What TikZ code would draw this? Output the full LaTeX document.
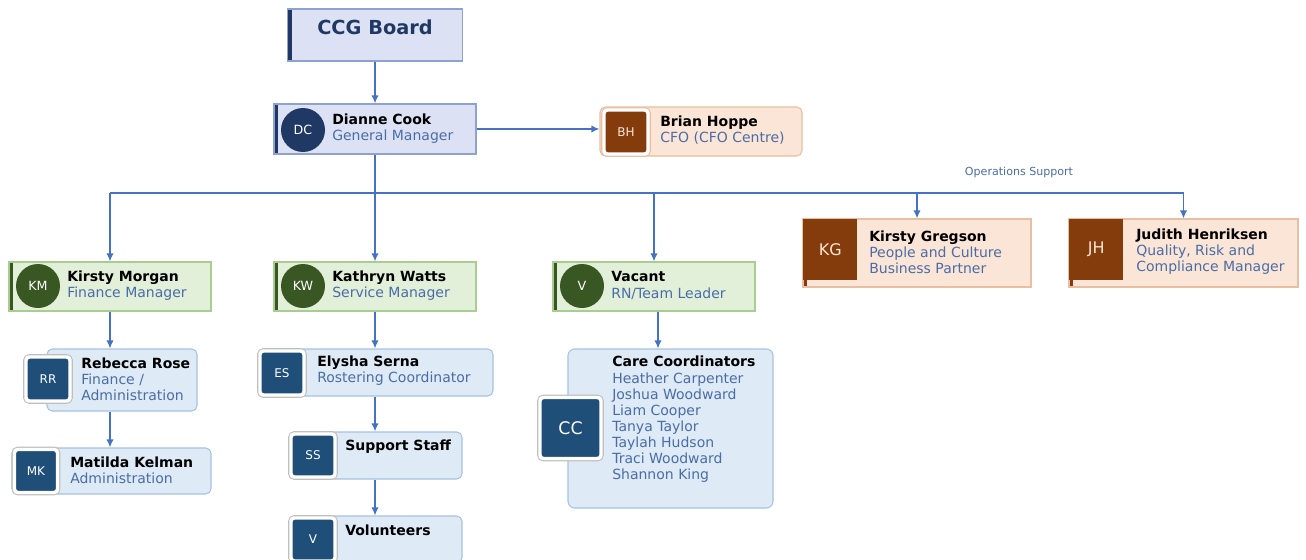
\documentclass[tikz,border=0pt]{standalone}
\usepackage{fontspec}
\setmainfont{DejaVu Sans}
\usetikzlibrary{arrows.meta}

\definecolor{navy}{HTML}{1F3864}
\definecolor{navyfill}{HTML}{DCE2F4}
\definecolor{navyline}{HTML}{8EA2D2}
\definecolor{leaf}{HTML}{385723}
\definecolor{leaffill}{HTML}{E2EFD9}
\definecolor{leafline}{HTML}{A9CD90}
\definecolor{rust}{HTML}{843C0C}
\definecolor{peach}{HTML}{FBE5D6}
\definecolor{peachline}{HTML}{E8BFA3}
\definecolor{steel}{HTML}{1F4E79}
\definecolor{skyfill}{HTML}{DEEAF6}
\definecolor{skyline}{HTML}{A8C3E0}
\definecolor{role}{HTML}{4A6DA7}
\definecolor{wireblue}{HTML}{4472C4}

\begin{document}
\begin{tikzpicture}[x=0.75pt, y=-0.75pt,
  boxsize/.style 2 args={minimum width=#1*0.75pt, minimum height=#2*0.75pt, inner sep=0pt},
  card/.style 2 args={rectangle, fill=#1, draw=#2, line width=0.8pt},
  leftbar/.style={path picture={\fill[#1] (path picture bounding box.north west) rectangle ([xshift=3pt]path picture bounding box.south west);}},
  dot/.style={circle, fill=#1, text=white, minimum size=44*0.75pt, inner sep=0pt, font=\fontsize{9.5}{11}\selectfont},
  tile/.style 2 args={rectangle, rounded corners=2.5pt, fill=#1, text=white, preaction={draw=#2, line width=4.2pt}, draw=white, line width=2.6pt, inner sep=0pt, font=\fontsize{9}{11}\selectfont},
  info/.style={anchor=west, align=left, inner sep=0pt, font=\fontsize{10.5}{12.1}\selectfont},
  wire/.style={draw=wireblue, line width=1.2pt},
  link/.style={wire, -{Latex[length=6pt, width=5.5pt]}}
]
 \fill[white] (0,0) rectangle (1306,560);
 \useasboundingbox (0,0) rectangle (1306,560);

 % top of the chart
 \node[card={navyfill}{navyline}, leftbar=navy, boxsize={175}{52}] (board) at (375,35) {};
 \node[font=\fontsize{14.5}{16}\selectfont\bfseries, text=navy] (boardname) at (375,27) {CCG Board};

 \node[card={navyfill}{navyline}, leftbar=navy, boxsize={202}{50}] (gm) at (375,129) {};
 \node[dot=navy] (gmpic) at (303,130) {DC};
 \node[info] (gmtext) at (332,129) {\textbf{Dianne Cook}\\\textcolor{role}{General Manager}};

 \node[card={peach}{peachline}, rounded corners=4pt, boxsize={202}{49}] (cfo) at (701,131.5) {};
 \node[tile={rust}{peachline}, boxsize={44}{44}, text=peach] (cfopic) at (626,132) {BH};
 \node[info] (cfotext) at (660,130) {\textbf{Brian Hoppe}\\\textcolor{role}{CFO (CFO Centre)}};

 % operations support
 \node[font=\fontsize{8.3}{10}\selectfont, text=role] (opslabel) at (1019,172) {Operations Support};

 \node[card={peach}{peachline}, leftbar=rust, boxsize={228}{68}] (pc) at (917,253) {};
 \node[rectangle, fill=rust, text=peach, boxsize={54}{61}, anchor=north west, font=\fontsize{12}{14}\selectfont] (pcpic) at (803,219) {KG};
 \node[info] (pctext) at (869,252) {\textbf{Kirsty Gregson}\\\textcolor{role}{People and Culture}\\\textcolor{role}{Business Partner}};

 \node[card={peach}{peachline}, leftbar=rust, boxsize={229}{68}] (qrc) at (1183.5,253) {};
 \node[rectangle, fill=rust, text=peach, boxsize={54}{61}, anchor=north west, font=\fontsize{12}{14}\selectfont] (qrcpic) at (1069,219) {JH};
 \node[info] (qrctext) at (1136,252) {\textbf{Judith Henriksen}\\\textcolor{role}{Quality, Risk and}\\\textcolor{role}{Compliance Manager}};

 % managers
 \node[card={leaffill}{leafline}, leftbar=leaf, boxsize={202}{49}] (fm) at (110,286.5) {};
 \node[dot=leaf] (fmpic) at (38,286) {KM};
 \node[info] (fmtext) at (67,285.5) {\textbf{Kirsty Morgan}\\\textcolor{role}{Finance Manager}};

 \node[card={leaffill}{leafline}, leftbar=leaf, boxsize={202}{49}] (sm) at (375,286.5) {};
 \node[dot=leaf] (smpic) at (303,286) {KW};
 \node[info] (smtext) at (332,285.5) {\textbf{Kathryn Watts}\\\textcolor{role}{Service Manager}};

 \node[card={leaffill}{leafline}, leftbar=leaf, boxsize={202}{49}] (rn) at (654,286.5) {};
 \node[dot=leaf] (rnpic) at (582,286) {V};
 \node[info] (rntext) at (611,285.5) {\textbf{Vacant}\\\textcolor{role}{RN/Team Leader}};

 % staff
 \node[card={skyfill}{skyline}, rounded corners=4pt, boxsize={150}{62}] (fin) at (122,380) {};
 \node[tile={steel}{gray!50}, boxsize={44}{44}] (finpic) at (48,379) {RR};
 \node[info] (fintext) at (81,379) {\textbf{Rebecca Rose}\\\textcolor{role}{Finance /}\\\textcolor{role}{Administration}};

 \node[card={skyfill}{skyline}, rounded corners=4pt, boxsize={199}{46}] (adm) at (111.5,471) {};
 \node[tile={steel}{gray!50}, boxsize={43}{43}] (admpic) at (36,471) {MK};
 \node[info] (admtext) at (70,470.5) {\textbf{Matilda Kelman}\\\textcolor{role}{Administration}};

 \node[card={skyfill}{skyline}, rounded corners=4pt, boxsize={235}{47}] (ros) at (375.5,372.5) {};
 \node[tile={steel}{gray!50}, boxsize={44}{44}] (rospic) at (282,373) {ES};
 \node[info] (rostext) at (317,371) {\textbf{Elysha Serna}\\\textcolor{role}{Rostering Coordinator}};

 \node[card={skyfill}{skyline}, rounded corners=4pt, boxsize={173}{47}] (sup) at (375.5,455.5) {};
 \node[tile={steel}{gray!50}, boxsize={44}{43}] (suppic) at (313,455.5) {SS};
 \node[info] (suptext) at (345,447) {\textbf{Support Staff}};

 \node[card={skyfill}{skyline}, rounded corners=4pt, boxsize={173}{47}] (vol) at (375.5,539.5) {};
 \node[tile={steel}{gray!50}, boxsize={44}{43}] (volpic) at (313,539.5) {V};
 \node[info] (voltext) at (345,530) {\textbf{Volunteers}};

 \node[card={skyfill}{skyline}, rounded corners=5pt, boxsize={205}{159}] (care) at (670.5,428.5) {};
 \node[tile={steel}{gray!50}, boxsize={61}{61}, font=\fontsize{13}{15}\selectfont] (carepic) at (570.5,428) {CC};
 \node[info] (caretext) at (612,419.5) {\textbf{Care Coordinators}\\\textcolor{role}{Heather Carpenter}\\\textcolor{role}{Joshua Woodward}\\\textcolor{role}{Liam Cooper}\\\textcolor{role}{Tanya Taylor}\\\textcolor{role}{Taylah Hudson}\\\textcolor{role}{Traci Woodward}\\\textcolor{role}{Shannon King}};

 % reporting lines
 \coordinate (bus) at (375,193);
 \draw[link] (board.south) -- (gm.north);
 \draw[link] (gm.east) -- (gm.east -| cfo.west);
 \draw[wire] (gm.south) -- (bus);
 \draw[wire] (fm.north |- bus) -- (qrc.north |- bus);
 \foreach \n in {fm,sm,rn,pc,qrc}
   \draw[link] (\n.north |- bus) -- (\n.north);
 \draw[link] (fm.south) -- (fm.south |- fin.north);
 \draw[link] (fm.south |- fin.south) -- (fm.south |- adm.north);
 \draw[link] (sm.south) -- (sm.south |- ros.north);
 \draw[link] (sm.south |- ros.south) -- (sm.south |- sup.north);
 \draw[link] (sm.south |- sup.south) -- (sm.south |- vol.north);
 \draw[link] ([xshift=3pt]rn.south) -- ([xshift=3pt]rn.south |- care.north);
\end{tikzpicture}
\end{document}
